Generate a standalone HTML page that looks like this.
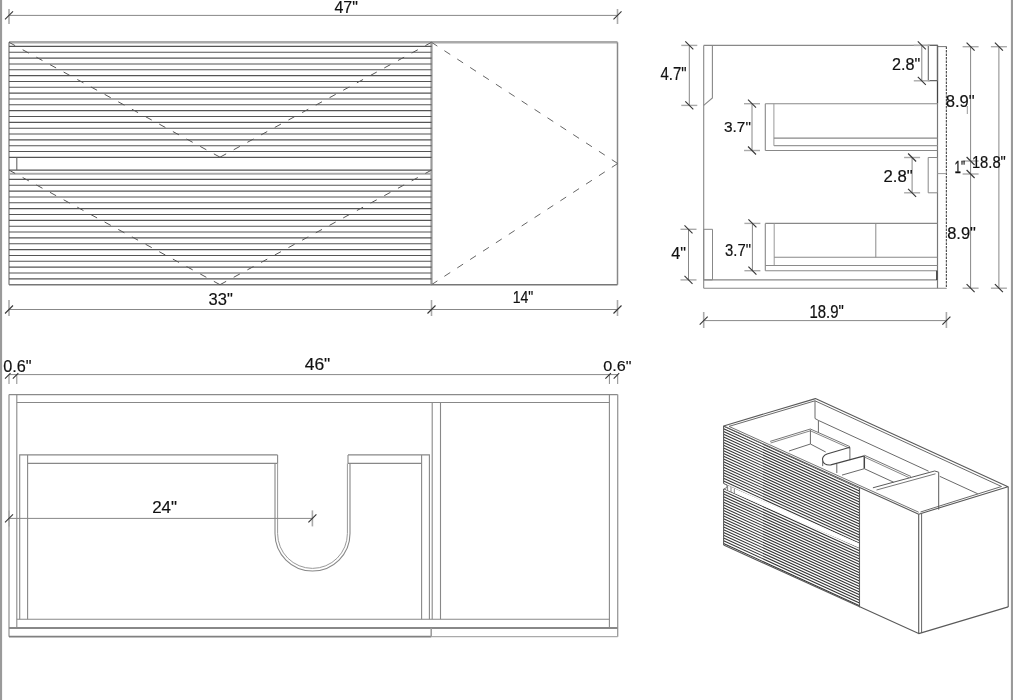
<!DOCTYPE html>
<html><head><meta charset="utf-8"><style>
html,body{margin:0;padding:0;background:#fff;}
body{width:1013px;height:700px;overflow:hidden;}
svg{display:block;will-change:transform;}
text{font-family:"Liberation Sans",sans-serif;fill:#111;}
</style></head><body>
<svg width="1013" height="700" viewBox="0 0 1013 700">
<rect width="1013" height="700" fill="#fff"/>
<line x1="1.00" y1="0.00" x2="1.00" y2="700.00" stroke="#9a9a9a" stroke-width="2.2"/>
<line x1="1012.00" y1="0.00" x2="1012.00" y2="700.00" stroke="#9a9a9a" stroke-width="2.2"/>
<line x1="9.00" y1="15.40" x2="617.50" y2="15.40" stroke="#888" stroke-width="1.0"/>
<line x1="9.00" y1="9.00" x2="9.00" y2="24.00" stroke="#aaa" stroke-width="1.6"/>
<line x1="5.00" y1="19.40" x2="13.00" y2="11.40" stroke="#333" stroke-width="1.1"/>
<line x1="617.50" y1="9.00" x2="617.50" y2="24.00" stroke="#aaa" stroke-width="1.6"/>
<line x1="613.50" y1="19.40" x2="621.50" y2="11.40" stroke="#333" stroke-width="1.1"/>
<text transform="translate(334.38,12.80) scale(0.1601,0.1710)" font-size="100" stroke="#111" stroke-width="1.12">47&quot;</text>
<line x1="9.00" y1="42.30" x2="617.50" y2="42.30" stroke="#aaaaaa" stroke-width="2.4"/>
<line x1="9.00" y1="42.30" x2="9.00" y2="284.70" stroke="#777" stroke-width="1.2"/>
<line x1="617.50" y1="42.30" x2="617.50" y2="284.70" stroke="#888" stroke-width="1.5"/>
<line x1="9.00" y1="284.70" x2="617.50" y2="284.70" stroke="#777" stroke-width="1.5"/>
<line x1="431.50" y1="42.30" x2="431.50" y2="284.70" stroke="#999" stroke-width="2.2"/>
<line x1="9.00" y1="46.40" x2="431.50" y2="46.40" stroke="#555" stroke-width="1.1"/>
<line x1="9.00" y1="52.24" x2="431.50" y2="52.24" stroke="#555" stroke-width="1.1"/>
<line x1="9.00" y1="58.08" x2="431.50" y2="58.08" stroke="#555" stroke-width="1.1"/>
<line x1="9.00" y1="63.93" x2="431.50" y2="63.93" stroke="#555" stroke-width="1.1"/>
<line x1="9.00" y1="69.77" x2="431.50" y2="69.77" stroke="#555" stroke-width="1.1"/>
<line x1="9.00" y1="75.61" x2="431.50" y2="75.61" stroke="#555" stroke-width="1.1"/>
<line x1="9.00" y1="81.45" x2="431.50" y2="81.45" stroke="#555" stroke-width="1.1"/>
<line x1="9.00" y1="87.29" x2="431.50" y2="87.29" stroke="#555" stroke-width="1.1"/>
<line x1="9.00" y1="93.14" x2="431.50" y2="93.14" stroke="#555" stroke-width="1.1"/>
<line x1="9.00" y1="98.98" x2="431.50" y2="98.98" stroke="#555" stroke-width="1.1"/>
<line x1="9.00" y1="104.82" x2="431.50" y2="104.82" stroke="#555" stroke-width="1.1"/>
<line x1="9.00" y1="110.66" x2="431.50" y2="110.66" stroke="#555" stroke-width="1.1"/>
<line x1="9.00" y1="116.51" x2="431.50" y2="116.51" stroke="#555" stroke-width="1.1"/>
<line x1="9.00" y1="122.35" x2="431.50" y2="122.35" stroke="#555" stroke-width="1.1"/>
<line x1="9.00" y1="128.19" x2="431.50" y2="128.19" stroke="#555" stroke-width="1.1"/>
<line x1="9.00" y1="134.03" x2="431.50" y2="134.03" stroke="#555" stroke-width="1.1"/>
<line x1="9.00" y1="139.87" x2="431.50" y2="139.87" stroke="#555" stroke-width="1.1"/>
<line x1="9.00" y1="145.72" x2="431.50" y2="145.72" stroke="#555" stroke-width="1.1"/>
<line x1="9.00" y1="151.56" x2="431.50" y2="151.56" stroke="#555" stroke-width="1.1"/>
<line x1="9.00" y1="157.40" x2="431.50" y2="157.40" stroke="#555" stroke-width="1.1"/>
<line x1="9.00" y1="170.10" x2="431.50" y2="170.10" stroke="#555" stroke-width="1.1"/>
<line x1="16.80" y1="157.40" x2="16.80" y2="170.10" stroke="#666" stroke-width="1.1"/>
<line x1="9.00" y1="173.70" x2="431.50" y2="173.70" stroke="#aaa" stroke-width="2.0"/>
<line x1="9.00" y1="179.40" x2="431.50" y2="179.40" stroke="#555" stroke-width="1.1"/>
<line x1="9.00" y1="185.25" x2="431.50" y2="185.25" stroke="#555" stroke-width="1.1"/>
<line x1="9.00" y1="191.10" x2="431.50" y2="191.10" stroke="#555" stroke-width="1.1"/>
<line x1="9.00" y1="196.95" x2="431.50" y2="196.95" stroke="#555" stroke-width="1.1"/>
<line x1="9.00" y1="202.80" x2="431.50" y2="202.80" stroke="#555" stroke-width="1.1"/>
<line x1="9.00" y1="208.65" x2="431.50" y2="208.65" stroke="#555" stroke-width="1.1"/>
<line x1="9.00" y1="214.50" x2="431.50" y2="214.50" stroke="#555" stroke-width="1.1"/>
<line x1="9.00" y1="220.35" x2="431.50" y2="220.35" stroke="#555" stroke-width="1.1"/>
<line x1="9.00" y1="226.20" x2="431.50" y2="226.20" stroke="#555" stroke-width="1.1"/>
<line x1="9.00" y1="232.05" x2="431.50" y2="232.05" stroke="#555" stroke-width="1.1"/>
<line x1="9.00" y1="237.90" x2="431.50" y2="237.90" stroke="#555" stroke-width="1.1"/>
<line x1="9.00" y1="243.75" x2="431.50" y2="243.75" stroke="#555" stroke-width="1.1"/>
<line x1="9.00" y1="249.60" x2="431.50" y2="249.60" stroke="#555" stroke-width="1.1"/>
<line x1="9.00" y1="255.45" x2="431.50" y2="255.45" stroke="#555" stroke-width="1.1"/>
<line x1="9.00" y1="261.30" x2="431.50" y2="261.30" stroke="#555" stroke-width="1.1"/>
<line x1="9.00" y1="267.15" x2="431.50" y2="267.15" stroke="#555" stroke-width="1.1"/>
<line x1="9.00" y1="273.00" x2="431.50" y2="273.00" stroke="#555" stroke-width="1.1"/>
<line x1="9.00" y1="278.85" x2="431.50" y2="278.85" stroke="#555" stroke-width="1.1"/>
<line x1="220.00" y1="157.20" x2="9.00" y2="42.30" stroke="#555" stroke-width="1.0" stroke-dasharray="7.00 8.55"/>
<line x1="220.00" y1="157.20" x2="431.50" y2="42.30" stroke="#555" stroke-width="1.0" stroke-dasharray="7.00 8.58"/>
<line x1="220.00" y1="284.70" x2="9.00" y2="170.10" stroke="#555" stroke-width="1.0" stroke-dasharray="7.00 8.54"/>
<line x1="220.00" y1="284.70" x2="431.50" y2="170.10" stroke="#555" stroke-width="1.0" stroke-dasharray="7.00 8.57"/>
<line x1="617.70" y1="163.50" x2="431.50" y2="42.30" stroke="#666" stroke-width="1.0" stroke-dasharray="7.00 8.37"/>
<line x1="617.70" y1="163.50" x2="431.50" y2="284.70" stroke="#666" stroke-width="1.0" stroke-dasharray="7.00 8.37"/>
<line x1="9.00" y1="309.50" x2="617.50" y2="309.50" stroke="#888" stroke-width="1.0"/>
<line x1="9.00" y1="300.00" x2="9.00" y2="316.00" stroke="#aaa" stroke-width="1.6"/>
<line x1="5.00" y1="313.50" x2="13.00" y2="305.50" stroke="#333" stroke-width="1.1"/>
<line x1="431.50" y1="300.00" x2="431.50" y2="316.00" stroke="#aaa" stroke-width="1.6"/>
<line x1="427.50" y1="313.50" x2="435.50" y2="305.50" stroke="#333" stroke-width="1.1"/>
<line x1="617.50" y1="300.00" x2="617.50" y2="316.00" stroke="#aaa" stroke-width="1.6"/>
<line x1="613.50" y1="313.50" x2="621.50" y2="305.50" stroke="#333" stroke-width="1.1"/>
<text transform="translate(208.54,304.94) scale(0.1653,0.1606)" font-size="100" stroke="#111" stroke-width="1.09">33&quot;</text>
<text transform="translate(512.74,302.80) scale(0.1407,0.1710)" font-size="100" stroke="#111" stroke-width="1.28">14&quot;</text>
<line x1="703.70" y1="45.40" x2="937.50" y2="45.40" stroke="#888" stroke-width="1.1"/>
<line x1="937.50" y1="46.60" x2="946.40" y2="46.60" stroke="#777" stroke-width="1.0"/>
<line x1="703.70" y1="45.40" x2="703.70" y2="288.20" stroke="#888" stroke-width="1.1"/>
<line x1="703.70" y1="288.20" x2="946.40" y2="288.20" stroke="#888" stroke-width="1.1"/>
<line x1="946.40" y1="46.60" x2="946.40" y2="288.20" stroke="#555" stroke-width="1.2" stroke-dasharray="2.5 1"/>
<line x1="937.50" y1="45.40" x2="937.50" y2="103.70" stroke="#444" stroke-width="1.3"/>
<line x1="937.50" y1="103.70" x2="937.50" y2="288.20" stroke="#777" stroke-width="1.2"/>
<polyline points="712.40,45.40 712.40,98.00 703.70,105.40" fill="none" stroke="#888" stroke-width="1.1"/>
<polygon points="928.30,45.40 937.50,45.40 937.50,80.60 928.30,80.60" fill="none" stroke="#666" stroke-width="1.1"/>
<polygon points="928.20,157.50 937.50,157.50 937.50,192.80 928.20,192.80" fill="none" stroke="#888" stroke-width="1.0"/>
<line x1="937.50" y1="173.60" x2="946.40" y2="173.60" stroke="#999" stroke-width="1.0"/>
<line x1="765.30" y1="103.70" x2="937.50" y2="103.70" stroke="#888" stroke-width="1.1"/>
<line x1="765.30" y1="103.70" x2="765.30" y2="150.50" stroke="#888" stroke-width="1.1"/>
<line x1="765.30" y1="150.50" x2="937.50" y2="150.50" stroke="#888" stroke-width="1.1"/>
<line x1="773.90" y1="103.70" x2="773.90" y2="145.70" stroke="#999" stroke-width="1.0"/>
<line x1="773.90" y1="138.10" x2="937.50" y2="138.10" stroke="#888" stroke-width="1.3"/>
<line x1="773.90" y1="145.70" x2="937.50" y2="145.70" stroke="#999" stroke-width="1.3"/>
<polygon points="703.70,229.30 712.50,229.30 712.50,279.90 703.70,279.90" fill="none" stroke="#888" stroke-width="1.0"/>
<line x1="703.70" y1="279.90" x2="937.50" y2="279.90" stroke="#888" stroke-width="1.1"/>
<line x1="765.30" y1="223.40" x2="937.50" y2="223.40" stroke="#888" stroke-width="1.1"/>
<line x1="765.30" y1="223.40" x2="765.30" y2="270.70" stroke="#888" stroke-width="1.1"/>
<line x1="765.30" y1="270.70" x2="937.50" y2="270.70" stroke="#888" stroke-width="1.1"/>
<line x1="774.20" y1="223.40" x2="774.20" y2="265.50" stroke="#999" stroke-width="1.0"/>
<line x1="774.20" y1="257.30" x2="937.50" y2="257.30" stroke="#888" stroke-width="1.1"/>
<line x1="765.30" y1="265.50" x2="937.50" y2="265.50" stroke="#8a8a8a" stroke-width="1.1"/>
<line x1="875.80" y1="223.40" x2="875.80" y2="257.30" stroke="#8a8a8a" stroke-width="1.0"/>
<line x1="936.80" y1="270.70" x2="936.80" y2="279.90" stroke="#333" stroke-width="1.3"/>
<line x1="689.30" y1="45.40" x2="689.30" y2="105.40" stroke="#888" stroke-width="1.0"/>
<line x1="681.30" y1="45.40" x2="697.30" y2="45.40" stroke="#aaa" stroke-width="1.4"/>
<line x1="685.30" y1="41.40" x2="693.30" y2="49.40" stroke="#333" stroke-width="1.1"/>
<line x1="681.30" y1="105.40" x2="697.30" y2="105.40" stroke="#aaa" stroke-width="1.4"/>
<line x1="685.30" y1="101.40" x2="693.30" y2="109.40" stroke="#333" stroke-width="1.1"/>
<text transform="translate(660.50,80.30) scale(0.1496,0.1783)" font-size="100" stroke="#111" stroke-width="1.20">4.7&quot;</text>
<line x1="752.00" y1="103.70" x2="752.00" y2="150.50" stroke="#888" stroke-width="1.0"/>
<line x1="744.00" y1="103.70" x2="760.00" y2="103.70" stroke="#aaa" stroke-width="1.4"/>
<line x1="748.00" y1="99.70" x2="756.00" y2="107.70" stroke="#333" stroke-width="1.1"/>
<line x1="744.00" y1="150.50" x2="760.00" y2="150.50" stroke="#aaa" stroke-width="1.4"/>
<line x1="748.00" y1="146.50" x2="756.00" y2="154.50" stroke="#333" stroke-width="1.1"/>
<text transform="translate(723.98,131.65) scale(0.1544,0.1521)" font-size="100" stroke="#111" stroke-width="1.17">3.7&quot;</text>
<line x1="921.80" y1="45.40" x2="921.80" y2="80.80" stroke="#888" stroke-width="1.0"/>
<line x1="913.80" y1="45.40" x2="929.80" y2="45.40" stroke="#aaa" stroke-width="1.4"/>
<line x1="917.80" y1="41.40" x2="925.80" y2="49.40" stroke="#333" stroke-width="1.1"/>
<line x1="913.80" y1="80.80" x2="929.80" y2="80.80" stroke="#aaa" stroke-width="1.4"/>
<line x1="917.80" y1="76.80" x2="925.80" y2="84.80" stroke="#333" stroke-width="1.1"/>
<text transform="translate(891.99,70.14) scale(0.1619,0.1606)" font-size="100" stroke="#111" stroke-width="1.11">2.8&quot;</text>
<line x1="912.10" y1="157.50" x2="912.10" y2="192.80" stroke="#888" stroke-width="1.0"/>
<line x1="904.10" y1="157.50" x2="920.10" y2="157.50" stroke="#aaa" stroke-width="1.4"/>
<line x1="908.10" y1="153.50" x2="916.10" y2="161.50" stroke="#333" stroke-width="1.1"/>
<line x1="904.10" y1="192.80" x2="920.10" y2="192.80" stroke="#aaa" stroke-width="1.4"/>
<line x1="908.10" y1="188.80" x2="916.10" y2="196.80" stroke="#333" stroke-width="1.1"/>
<text transform="translate(883.46,181.54) scale(0.1674,0.1592)" font-size="100" stroke="#111" stroke-width="1.08">2.8&quot;</text>
<line x1="688.50" y1="229.30" x2="688.50" y2="279.90" stroke="#888" stroke-width="1.0"/>
<line x1="680.50" y1="229.30" x2="696.50" y2="229.30" stroke="#aaa" stroke-width="1.4"/>
<line x1="684.50" y1="225.30" x2="692.50" y2="233.30" stroke="#333" stroke-width="1.1"/>
<line x1="680.50" y1="279.90" x2="696.50" y2="279.90" stroke="#aaa" stroke-width="1.4"/>
<line x1="684.50" y1="275.90" x2="692.50" y2="283.90" stroke="#333" stroke-width="1.1"/>
<text transform="translate(671.18,258.70) scale(0.1624,0.1652)" font-size="100" stroke="#111" stroke-width="1.11">4&quot;</text>
<line x1="752.40" y1="223.40" x2="752.40" y2="270.70" stroke="#888" stroke-width="1.0"/>
<line x1="744.40" y1="223.40" x2="760.40" y2="223.40" stroke="#aaa" stroke-width="1.4"/>
<line x1="748.40" y1="219.40" x2="756.40" y2="227.40" stroke="#333" stroke-width="1.1"/>
<line x1="744.40" y1="270.70" x2="760.40" y2="270.70" stroke="#aaa" stroke-width="1.4"/>
<line x1="748.40" y1="266.70" x2="756.40" y2="274.70" stroke="#333" stroke-width="1.1"/>
<text transform="translate(725.10,255.73) scale(0.1489,0.1718)" font-size="100" stroke="#111" stroke-width="1.21">3.7&quot;</text>
<line x1="970.60" y1="46.70" x2="970.60" y2="288.20" stroke="#888" stroke-width="1.0"/>
<line x1="962.60" y1="46.70" x2="978.60" y2="46.70" stroke="#aaa" stroke-width="1.4"/>
<line x1="966.60" y1="42.70" x2="974.60" y2="50.70" stroke="#333" stroke-width="1.1"/>
<line x1="962.60" y1="161.00" x2="978.60" y2="161.00" stroke="#aaa" stroke-width="1.4"/>
<line x1="966.60" y1="157.00" x2="974.60" y2="165.00" stroke="#333" stroke-width="1.1"/>
<line x1="962.60" y1="174.00" x2="978.60" y2="174.00" stroke="#aaa" stroke-width="1.4"/>
<line x1="966.60" y1="170.00" x2="974.60" y2="178.00" stroke="#333" stroke-width="1.1"/>
<line x1="962.60" y1="288.20" x2="978.60" y2="288.20" stroke="#aaa" stroke-width="1.4"/>
<line x1="966.60" y1="284.20" x2="974.60" y2="292.20" stroke="#333" stroke-width="1.1"/>
<line x1="967.30" y1="106.00" x2="967.30" y2="114.00" stroke="#999" stroke-width="1.0"/>
<line x1="998.90" y1="46.70" x2="998.90" y2="288.20" stroke="#888" stroke-width="1.0"/>
<line x1="990.90" y1="46.70" x2="1006.90" y2="46.70" stroke="#aaa" stroke-width="1.4"/>
<line x1="994.90" y1="42.70" x2="1002.90" y2="50.70" stroke="#333" stroke-width="1.1"/>
<line x1="990.90" y1="288.20" x2="1006.90" y2="288.20" stroke="#aaa" stroke-width="1.4"/>
<line x1="994.90" y1="284.20" x2="1002.90" y2="292.20" stroke="#333" stroke-width="1.1"/>
<text transform="translate(945.65,107.33) scale(0.1663,0.1718)" font-size="100" stroke="#111" stroke-width="1.08">8.9&quot;</text>
<text transform="translate(947.16,239.34) scale(0.1651,0.1592)" font-size="100" stroke="#111" stroke-width="1.09">8.9&quot;</text>
<text transform="translate(954.53,173.10) scale(0.1157,0.1638)" font-size="100" stroke="#111" stroke-width="1.56">1&quot;</text>
<text transform="translate(971.89,167.84) scale(0.1478,0.1634)" font-size="100" stroke="#111" stroke-width="1.22">18.8&quot;</text>
<line x1="703.70" y1="320.60" x2="946.40" y2="320.60" stroke="#888" stroke-width="1.0"/>
<line x1="703.70" y1="312.00" x2="703.70" y2="328.00" stroke="#aaa" stroke-width="1.6"/>
<line x1="699.70" y1="324.60" x2="707.70" y2="316.60" stroke="#333" stroke-width="1.1"/>
<line x1="946.40" y1="312.00" x2="946.40" y2="328.00" stroke="#aaa" stroke-width="1.6"/>
<line x1="942.40" y1="324.60" x2="950.40" y2="316.60" stroke="#333" stroke-width="1.1"/>
<text transform="translate(809.48,318.03) scale(0.1492,0.1746)" font-size="100" stroke="#111" stroke-width="1.21">18.9&quot;</text>
<line x1="9.00" y1="374.60" x2="617.70" y2="374.60" stroke="#888" stroke-width="1.0"/>
<line x1="9.00" y1="374.60" x2="9.00" y2="384.00" stroke="#8a8a8a" stroke-width="1.0"/>
<line x1="16.80" y1="374.60" x2="16.80" y2="384.00" stroke="#8a8a8a" stroke-width="1.0"/>
<line x1="609.40" y1="374.60" x2="609.40" y2="384.00" stroke="#8a8a8a" stroke-width="1.0"/>
<line x1="617.70" y1="374.60" x2="617.70" y2="384.00" stroke="#8a8a8a" stroke-width="1.0"/>
<line x1="5.00" y1="378.60" x2="10.50" y2="373.20" stroke="#333" stroke-width="1.1"/>
<line x1="12.80" y1="378.60" x2="18.30" y2="373.20" stroke="#333" stroke-width="1.1"/>
<line x1="605.40" y1="378.60" x2="610.90" y2="373.20" stroke="#333" stroke-width="1.1"/>
<line x1="613.70" y1="378.60" x2="619.20" y2="373.20" stroke="#333" stroke-width="1.1"/>
<text transform="translate(3.25,371.63) scale(0.1628,0.1662)" font-size="100" stroke="#111" stroke-width="1.11">0.6&quot;</text>
<text transform="translate(304.65,370.24) scale(0.1751,0.1606)" font-size="100" stroke="#111" stroke-width="1.03">46&quot;</text>
<text transform="translate(603.35,370.75) scale(0.1616,0.1535)" font-size="100" stroke="#111" stroke-width="1.11">0.6&quot;</text>
<line x1="9.00" y1="394.60" x2="617.70" y2="394.60" stroke="#8a8a8a" stroke-width="1.3"/>
<line x1="9.00" y1="394.60" x2="9.00" y2="636.70" stroke="#999" stroke-width="1.3"/>
<line x1="617.70" y1="394.60" x2="617.70" y2="636.70" stroke="#999" stroke-width="1.3"/>
<line x1="16.80" y1="402.50" x2="609.40" y2="402.50" stroke="#888" stroke-width="1.1"/>
<line x1="16.80" y1="394.60" x2="16.80" y2="628.00" stroke="#888" stroke-width="1.1"/>
<line x1="609.40" y1="394.60" x2="609.40" y2="628.00" stroke="#888" stroke-width="1.1"/>
<line x1="432.20" y1="402.50" x2="432.20" y2="619.20" stroke="#888" stroke-width="1.1"/>
<line x1="440.50" y1="402.50" x2="440.50" y2="619.20" stroke="#888" stroke-width="1.1"/>
<line x1="16.80" y1="619.20" x2="609.40" y2="619.20" stroke="#888" stroke-width="1.1"/>
<line x1="9.00" y1="628.00" x2="617.70" y2="628.00" stroke="#888" stroke-width="2.0"/>
<line x1="9.00" y1="636.70" x2="431.20" y2="636.70" stroke="#808080" stroke-width="1.8"/>
<line x1="431.20" y1="636.70" x2="617.70" y2="636.70" stroke="#aaa" stroke-width="1.2"/>
<line x1="431.20" y1="628.00" x2="431.20" y2="636.70" stroke="#999" stroke-width="1.5"/>
<polyline points="277.60,463.40 27.60,463.40" fill="none" stroke="#888" stroke-width="1.1"/>
<line x1="27.60" y1="454.90" x2="27.60" y2="619.20" stroke="#888" stroke-width="1.1"/>
<polyline points="277.60,454.90 19.70,454.90 19.70,619.20" fill="none" stroke="#888" stroke-width="1.1"/>
<line x1="277.60" y1="454.90" x2="277.60" y2="463.40" stroke="#888" stroke-width="1.1"/>
<polyline points="348.00,463.40 421.60,463.40" fill="none" stroke="#888" stroke-width="1.1"/>
<line x1="421.60" y1="454.90" x2="421.60" y2="619.20" stroke="#888" stroke-width="1.1"/>
<polyline points="348.00,454.90 429.40,454.90 429.40,619.20" fill="none" stroke="#888" stroke-width="1.1"/>
<line x1="348.00" y1="454.90" x2="348.00" y2="463.40" stroke="#888" stroke-width="1.1"/>
<path d="M275,463.4 L275,533.5 A37.5,37.5 0 0 0 350,533.5 L350,463.4" fill="none" stroke="#888" stroke-width="1.1"/>
<path d="M277.6,463.4 L277.6,533.5 A34.9,34.9 0 0 0 347.4,533.5 L347.4,463.4" fill="none" stroke="#999" stroke-width="1.0"/>
<line x1="9.00" y1="518.40" x2="312.40" y2="518.40" stroke="#888" stroke-width="1.0"/>
<line x1="9.00" y1="510.40" x2="9.00" y2="526.40" stroke="#aaa" stroke-width="1.6"/>
<line x1="5.00" y1="522.40" x2="13.00" y2="514.40" stroke="#333" stroke-width="1.1"/>
<line x1="312.40" y1="510.40" x2="312.40" y2="526.40" stroke="#aaa" stroke-width="1.6"/>
<line x1="308.40" y1="522.40" x2="316.40" y2="514.40" stroke="#333" stroke-width="1.1"/>
<text transform="translate(152.15,513.00) scale(0.1702,0.1629)" font-size="100" stroke="#111" stroke-width="1.06">24&quot;</text>
<clipPath id="fr1"><polygon points="723.6,426 859.5,488.2 859.5,543.5 723.6,483.6"/></clipPath>
<clipPath id="fr2"><polygon points="723.6,488.6 859.5,548.0 859.5,607.3 723.6,545.0"/></clipPath>
<g clip-path="url(#fr1)" stroke="#333" stroke-width="1.05"><line x1="723.6" y1="415.00" x2="859.5" y2="477.24"/><line x1="723.6" y1="417.75" x2="859.5" y2="479.99"/><line x1="723.6" y1="420.50" x2="859.5" y2="482.74"/><line x1="723.6" y1="423.25" x2="859.5" y2="485.49"/><line x1="723.6" y1="426.00" x2="859.5" y2="488.24"/><line x1="723.6" y1="428.75" x2="859.5" y2="490.99"/><line x1="723.6" y1="431.50" x2="859.5" y2="493.74"/><line x1="723.6" y1="434.25" x2="859.5" y2="496.49"/><line x1="723.6" y1="437.00" x2="859.5" y2="499.24"/><line x1="723.6" y1="439.75" x2="859.5" y2="501.99"/><line x1="723.6" y1="442.50" x2="859.5" y2="504.74"/><line x1="723.6" y1="445.25" x2="859.5" y2="507.49"/><line x1="723.6" y1="448.00" x2="859.5" y2="510.24"/><line x1="723.6" y1="450.75" x2="859.5" y2="512.99"/><line x1="723.6" y1="453.50" x2="859.5" y2="515.74"/><line x1="723.6" y1="456.25" x2="859.5" y2="518.49"/><line x1="723.6" y1="459.00" x2="859.5" y2="521.24"/><line x1="723.6" y1="461.75" x2="859.5" y2="523.99"/><line x1="723.6" y1="464.50" x2="859.5" y2="526.74"/><line x1="723.6" y1="467.25" x2="859.5" y2="529.49"/><line x1="723.6" y1="470.00" x2="859.5" y2="532.24"/><line x1="723.6" y1="472.75" x2="859.5" y2="534.99"/><line x1="723.6" y1="475.50" x2="859.5" y2="537.74"/><line x1="723.6" y1="478.25" x2="859.5" y2="540.49"/><line x1="723.6" y1="481.00" x2="859.5" y2="543.24"/><line x1="723.6" y1="483.75" x2="859.5" y2="545.99"/><line x1="723.6" y1="486.50" x2="859.5" y2="548.74"/><line x1="723.6" y1="489.25" x2="859.5" y2="551.49"/><line x1="723.6" y1="492.00" x2="859.5" y2="554.24"/><line x1="723.6" y1="494.75" x2="859.5" y2="556.99"/><line x1="723.6" y1="497.50" x2="859.5" y2="559.74"/><line x1="723.6" y1="500.25" x2="859.5" y2="562.49"/><line x1="723.6" y1="503.00" x2="859.5" y2="565.24"/><line x1="723.6" y1="505.75" x2="859.5" y2="567.99"/></g>
<g clip-path="url(#fr2)" stroke="#333" stroke-width="1.05"><line x1="723.6" y1="477.50" x2="859.5" y2="539.74"/><line x1="723.6" y1="480.25" x2="859.5" y2="542.49"/><line x1="723.6" y1="483.00" x2="859.5" y2="545.24"/><line x1="723.6" y1="485.75" x2="859.5" y2="547.99"/><line x1="723.6" y1="488.50" x2="859.5" y2="550.74"/><line x1="723.6" y1="491.25" x2="859.5" y2="553.49"/><line x1="723.6" y1="494.00" x2="859.5" y2="556.24"/><line x1="723.6" y1="496.75" x2="859.5" y2="558.99"/><line x1="723.6" y1="499.50" x2="859.5" y2="561.74"/><line x1="723.6" y1="502.25" x2="859.5" y2="564.49"/><line x1="723.6" y1="505.00" x2="859.5" y2="567.24"/><line x1="723.6" y1="507.75" x2="859.5" y2="569.99"/><line x1="723.6" y1="510.50" x2="859.5" y2="572.74"/><line x1="723.6" y1="513.25" x2="859.5" y2="575.49"/><line x1="723.6" y1="516.00" x2="859.5" y2="578.24"/><line x1="723.6" y1="518.75" x2="859.5" y2="580.99"/><line x1="723.6" y1="521.50" x2="859.5" y2="583.74"/><line x1="723.6" y1="524.25" x2="859.5" y2="586.49"/><line x1="723.6" y1="527.00" x2="859.5" y2="589.24"/><line x1="723.6" y1="529.75" x2="859.5" y2="591.99"/><line x1="723.6" y1="532.50" x2="859.5" y2="594.74"/><line x1="723.6" y1="535.25" x2="859.5" y2="597.49"/><line x1="723.6" y1="538.00" x2="859.5" y2="600.24"/><line x1="723.6" y1="540.75" x2="859.5" y2="602.99"/><line x1="723.6" y1="543.50" x2="859.5" y2="605.74"/><line x1="723.6" y1="546.25" x2="859.5" y2="608.49"/><line x1="723.6" y1="549.00" x2="859.5" y2="611.24"/><line x1="723.6" y1="551.75" x2="859.5" y2="613.99"/><line x1="723.6" y1="554.50" x2="859.5" y2="616.74"/><line x1="723.6" y1="557.25" x2="859.5" y2="619.49"/><line x1="723.6" y1="560.00" x2="859.5" y2="622.24"/><line x1="723.6" y1="562.75" x2="859.5" y2="624.99"/><line x1="723.6" y1="565.50" x2="859.5" y2="627.74"/><line x1="723.6" y1="568.25" x2="859.5" y2="630.49"/></g>
<polyline points="723.60,483.60 727.00,485.00 727.00,487.50 723.60,489.00" fill="none" stroke="#666" stroke-width="0.9" stroke-linejoin="round"/>
<line x1="727.60" y1="485.50" x2="727.60" y2="490.50" stroke="#777" stroke-width="0.9"/>
<line x1="731.00" y1="487.00" x2="731.00" y2="492.00" stroke="#777" stroke-width="0.9"/>
<line x1="734.30" y1="488.50" x2="734.30" y2="493.50" stroke="#777" stroke-width="0.9"/>
<polygon points="723.60,426.00 815.40,398.60 1008.00,486.70 918.70,514.20" fill="none" stroke="#5a5a5a" stroke-width="1.1" stroke-linejoin="round"/>
<line x1="723.60" y1="426.00" x2="723.60" y2="483.60" stroke="#5a5a5a" stroke-width="1.1"/>
<line x1="723.60" y1="489.00" x2="723.60" y2="545.00" stroke="#5a5a5a" stroke-width="1.1"/>
<line x1="859.50" y1="488.20" x2="859.50" y2="607.30" stroke="#5a5a5a" stroke-width="1.1"/>
<line x1="918.70" y1="514.20" x2="918.70" y2="633.60" stroke="#5a5a5a" stroke-width="1.1"/>
<line x1="921.60" y1="513.00" x2="921.60" y2="633.00" stroke="#666" stroke-width="1.0"/>
<line x1="1008.20" y1="486.70" x2="1008.20" y2="606.90" stroke="#5a5a5a" stroke-width="1.1"/>
<polyline points="723.60,545.00 918.70,633.60 1008.20,606.90" fill="none" stroke="#5a5a5a" stroke-width="1.1" stroke-linejoin="round"/>
<polyline points="729.00,426.40 815.00,400.80 1001.50,486.50 920.50,512.00" fill="none" stroke="#6a6a6a" stroke-width="1.0" stroke-linejoin="round"/>
<line x1="729.00" y1="426.40" x2="918.70" y2="512.20" stroke="#666" stroke-width="0.9"/>
<polyline points="815.00,400.80 815.00,418.50 818.40,420.40 818.40,432.70" fill="none" stroke="#6a6a6a" stroke-width="1.0" stroke-linejoin="round"/>
<line x1="818.40" y1="420.40" x2="928.60" y2="471.20" stroke="#6a6a6a" stroke-width="1.0"/>
<line x1="939.70" y1="476.30" x2="977.80" y2="493.80" stroke="#6a6a6a" stroke-width="1.0"/>
<line x1="770.10" y1="441.40" x2="810.40" y2="429.00" stroke="#666" stroke-width="0.9"/>
<line x1="770.60" y1="443.00" x2="810.40" y2="430.80" stroke="#777" stroke-width="0.9"/>
<line x1="810.40" y1="429.00" x2="849.90" y2="446.60" stroke="#666" stroke-width="0.9"/>
<line x1="810.40" y1="430.80" x2="849.90" y2="448.40" stroke="#777" stroke-width="0.9"/>
<line x1="810.40" y1="429.70" x2="810.40" y2="444.00" stroke="#6a6a6a" stroke-width="1.0"/>
<line x1="789.00" y1="451.00" x2="810.40" y2="444.00" stroke="#6a6a6a" stroke-width="1.0"/>
<line x1="810.40" y1="444.00" x2="825.70" y2="452.00" stroke="#6a6a6a" stroke-width="1.0"/>
<line x1="849.90" y1="447.30" x2="849.90" y2="460.10" stroke="#6a6a6a" stroke-width="1.0"/>
<path d="M849.9,447.3 L827.0,454.0 Q821.8,456.0 822.6,460.6 Q824.0,465.5 830.8,464.9 L864.3,455.9" fill="none" stroke="#444" stroke-width="1.1"/>
<line x1="822.70" y1="460.00" x2="822.70" y2="466.10" stroke="#666" stroke-width="1.0"/>
<line x1="836.80" y1="464.00" x2="836.80" y2="473.00" stroke="#666" stroke-width="1.0"/>
<line x1="864.30" y1="455.90" x2="864.30" y2="468.70" stroke="#444" stroke-width="1.5"/>
<line x1="864.30" y1="455.20" x2="911.00" y2="476.50" stroke="#666" stroke-width="0.9"/>
<line x1="864.30" y1="457.00" x2="909.00" y2="477.60" stroke="#777" stroke-width="0.9"/>
<line x1="842.00" y1="475.10" x2="864.30" y2="468.70" stroke="#6a6a6a" stroke-width="1.0"/>
<line x1="864.30" y1="468.70" x2="893.60" y2="482.20" stroke="#6a6a6a" stroke-width="1.0"/>
<polyline points="872.90,487.80 934.70,471.00 938.70,472.20 938.70,509.60" fill="none" stroke="#5a5a5a" stroke-width="1.0" stroke-linejoin="round"/>
<line x1="876.50" y1="490.00" x2="935.50" y2="473.80" stroke="#666" stroke-width="0.9"/>
</svg>
</body></html>
